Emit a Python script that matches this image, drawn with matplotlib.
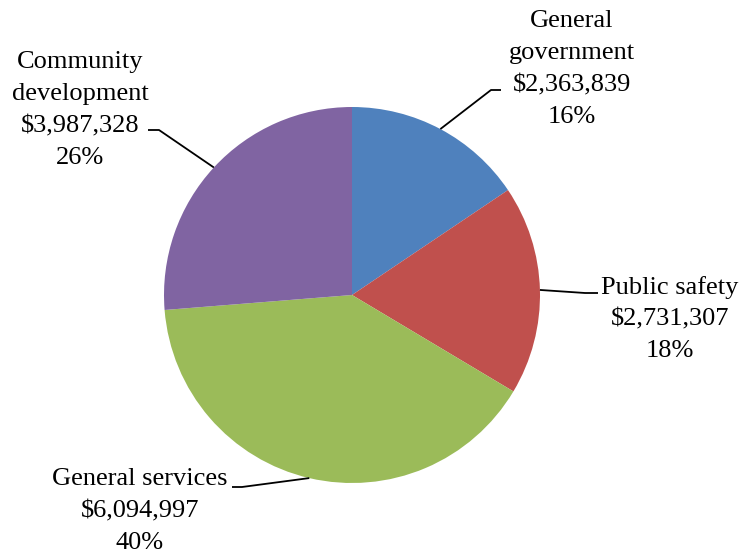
import numpy as np
import matplotlib.pyplot as plt

# data
names = ['General\ngovernment', 'Public safety', 'General services', 'Community\ndevelopment']
values = [2363839, 2731307, 6094997, 3987328]
colors = ['#4F81BD', '#C0504D', '#9BBB59', '#8064A2']

W, H = 742, 553
fig = plt.figure(figsize=(W / 100, H / 100), dpi=100)
ax = fig.add_axes([0, 0, 1, 1])

# pie centre and radius in pixels (y from the bottom)
cx, cy, r = 352, H - 295, 188
wedges, _ = ax.pie(values, colors=colors, startangle=90, counterclock=False,
                   radius=r, center=(cx, cy), wedgeprops=dict(linewidth=0))
ax.set_xlim(0, W)
ax.set_ylim(0, H)
ax.set_aspect('equal')
ax.axis('off')

# label layout: text centre, elbow of leader, end of leader (pixels from top)
layout = [
    ((572, 69), (491, 90), (501, 90)),
    ((670, 319), (585, 293), (598, 293)),
    ((140, 511), (242, 487), (232, 487)),
    ((80, 110), (159, 130), (148, 130)),
]

total = sum(values)
for w, name, v, (txt, elb, end) in zip(wedges, names, values, layout):
    ang = np.deg2rad((w.theta1 + w.theta2) / 2)
    x0 = cx + r * np.cos(ang)
    y0 = cy + r * np.sin(ang)
    ax.plot([x0, elb[0], end[0]], [y0, H - elb[1], H - end[1]],
            color='black', lw=1.3, solid_capstyle='butt')
    label = f'{name}\n${v:,}\n{v / total * 100:.0f}%'
    ax.text(txt[0], H - txt[1], label, ha='center', va='center',
            multialignment='center', fontsize=19, linespacing=1.58,
            family='Liberation Serif')

plt.savefig('out.png', dpi=100)
